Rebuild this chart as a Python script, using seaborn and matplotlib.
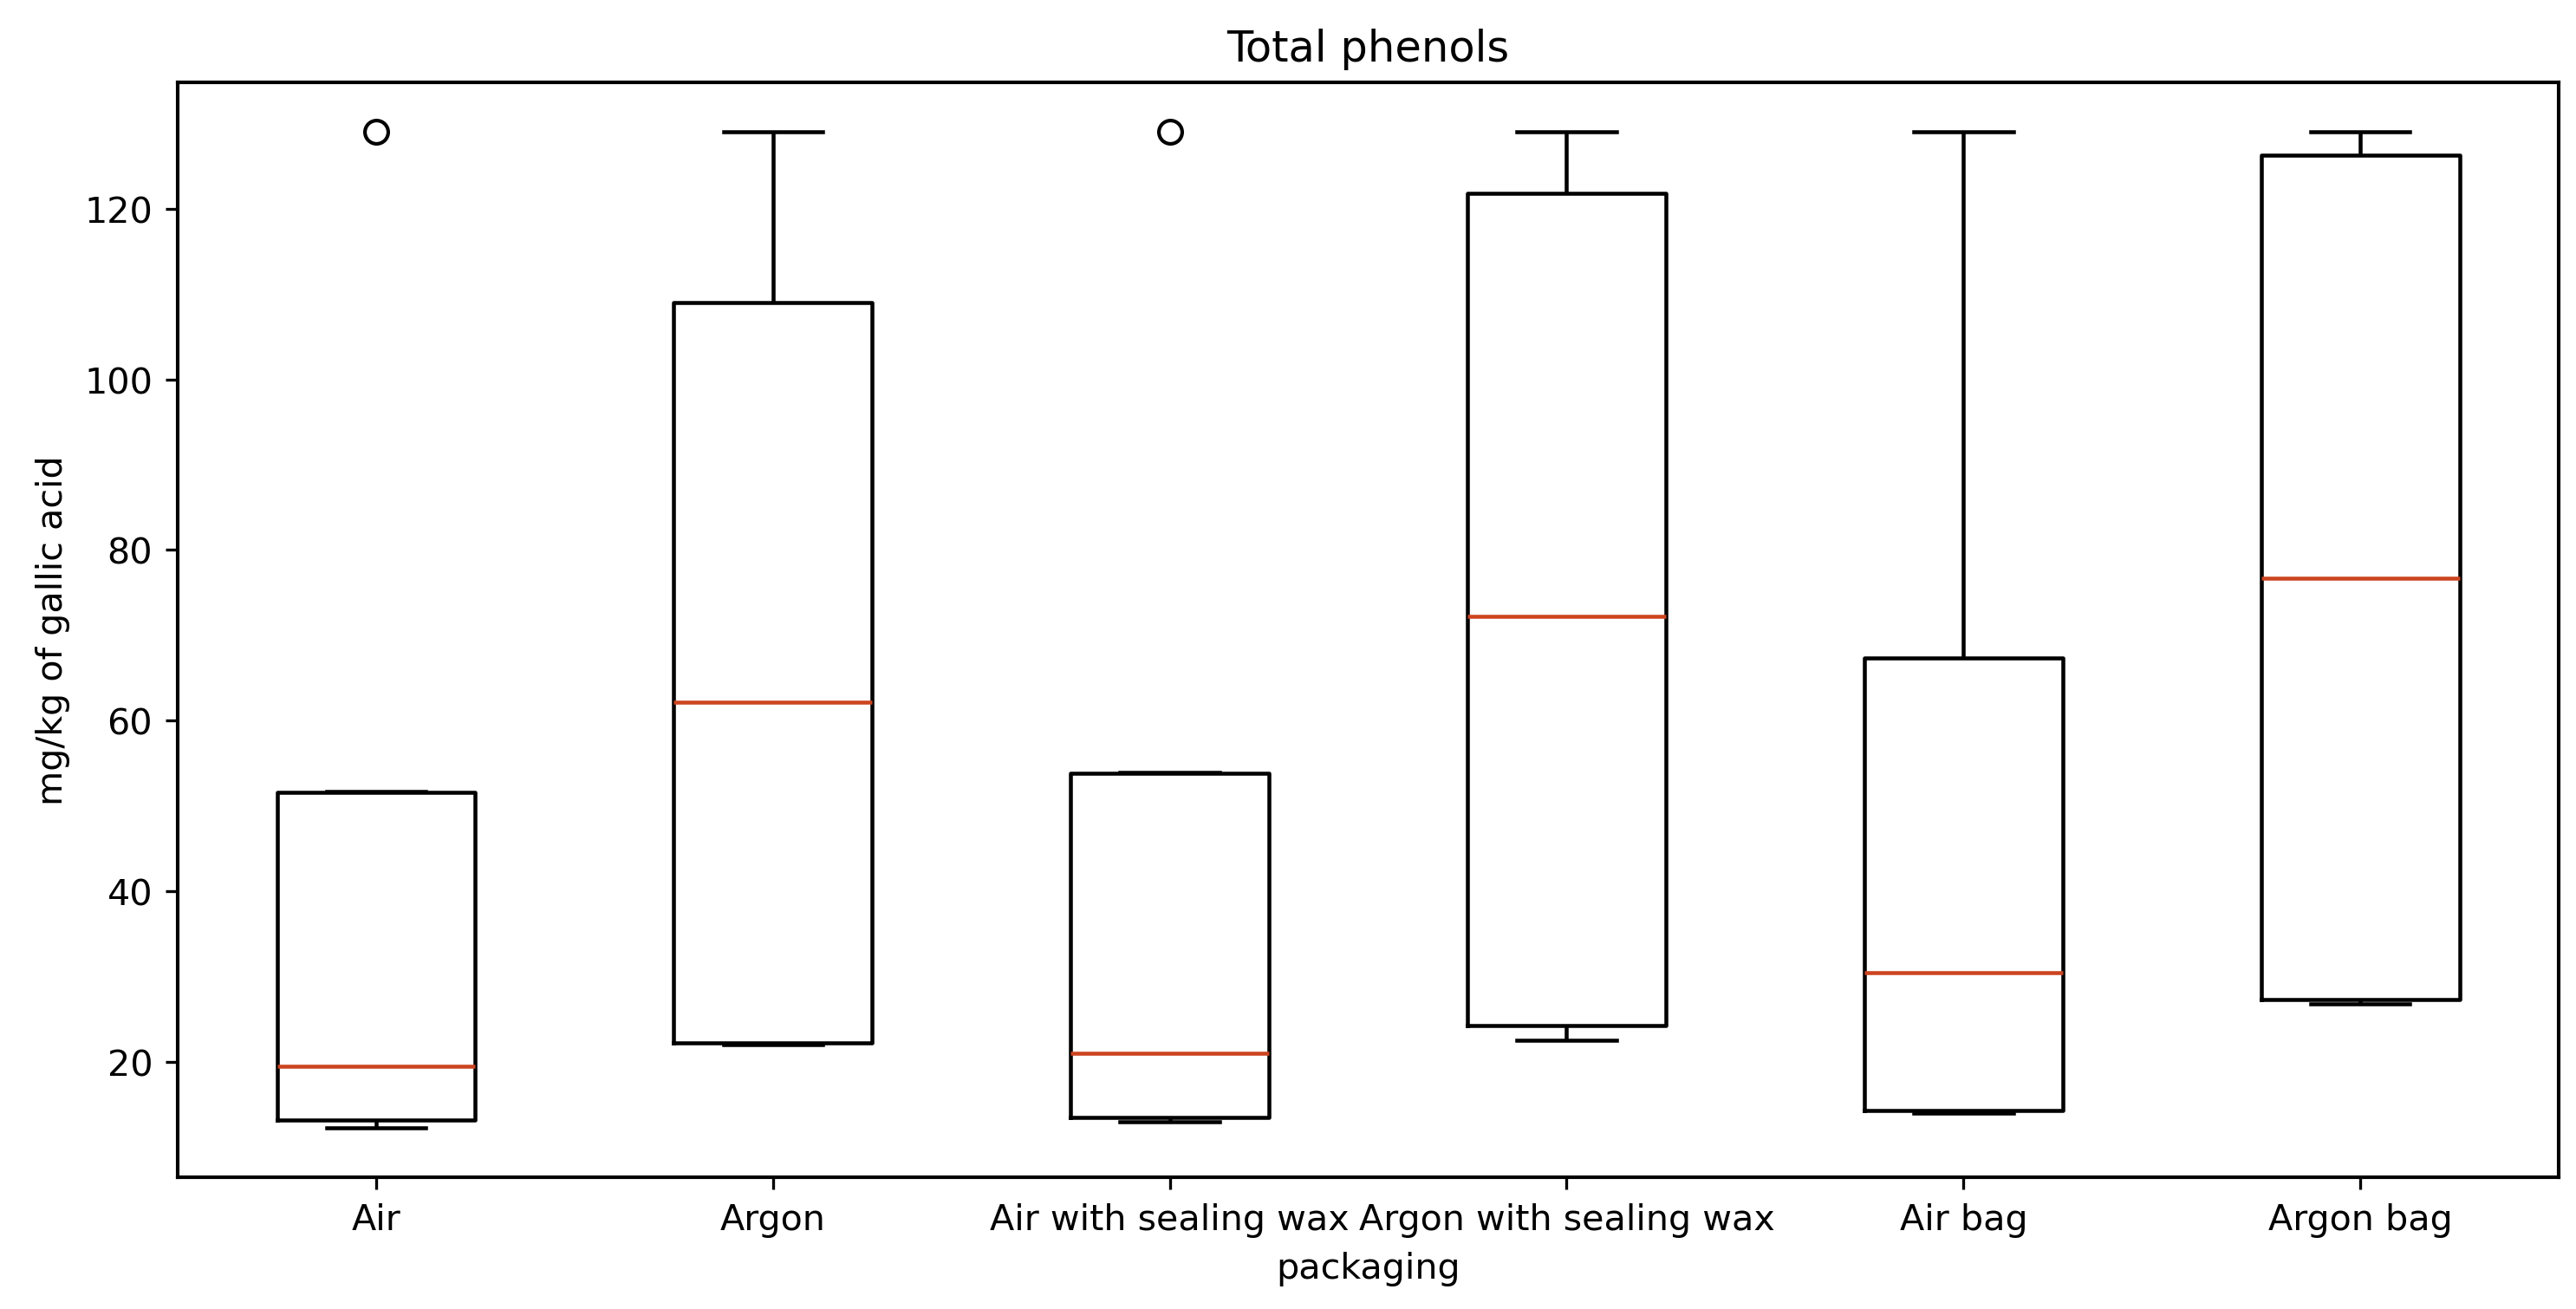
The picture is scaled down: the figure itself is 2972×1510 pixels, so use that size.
import numpy as np
import pandas as pd
import matplotlib
matplotlib.use("Agg")
import matplotlib.pyplot as plt
import seaborn as sns

# Werte je Verpackung (mg/kg Gallussäure), aus der Abbildung geschätzt
packaging = ["Air", "Argon", "Air with sealing wax", "Argon with sealing wax",
             "Air bag", "Argon bag"]

air = [129.0, 51.7, 51.5, 19.5, 13.4, 13.0, 12.3]
argon = [129.0, 123.0, 95.0, 62.2, 22.3, 22.1, 22.0]
air_wax = [129.0, 53.9, 53.7, 21.0, 13.7, 13.3, 13.0]
argon_wax = [129.0, 125.6, 118.0, 72.2, 24.8, 23.8, 22.5]
air_bag = [129.0, 89.6, 45.0, 30.5, 14.4, 14.2, 14.0]
argon_bag = [129.0, 127.6, 125.0, 76.7, 27.5, 27.1, 26.8]

series = [air, argon, air_wax, argon_wax, air_bag, argon_bag]

rows = []
for name, vals in zip(packaging, series):
    for v in vals:
        rows.append({"packaging": name, "value": v})
df = pd.DataFrame(rows)

plt.rcParams['font.family'] = ['DejaVu Sans']

fig, ax = plt.subplots(figsize=(10, 5.084), dpi=297.2)

sns.boxplot(data=df, x="packaging", y="value", order=packaging,
            width=0.5, fill=False, whis=1.5, linewidth=1.1,
            color="black", linecolor="black",
            medianprops={"color": "#cc4420", "linewidth": 1.1},
            flierprops={"marker": "o", "markersize": 6.5,
                        "markerfacecolor": "none", "markeredgecolor": "black"},
            ax=ax)

ax.set_title("Total phenols", fontsize=12)
ax.set_xlabel("packaging", fontsize=10)
ax.set_ylabel("mg/kg of gallic acid", fontsize=10)
ax.tick_params(labelsize=10)
ax.set_xlim(-0.5, len(packaging) - 0.5)
ax.margins(y=0.05)

for s in ax.spines.values():
    s.set_visible(True)
    s.set_color("black")
    s.set_linewidth(1.0)

plt.subplots_adjust(left=0.069, right=0.9933, bottom=0.1006, top=0.9365)
plt.savefig("out.png", dpi=297.2)
plt.close()
